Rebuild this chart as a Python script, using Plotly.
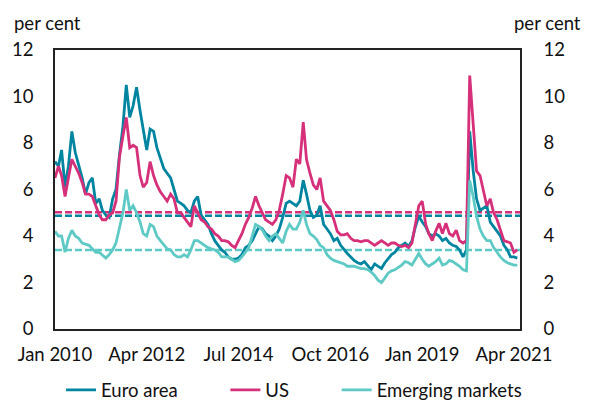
import pandas as pd
import plotly.graph_objects as go

dates = pd.date_range("2010-01-01", periods=137, freq="MS")

euro_area = [7.2, 7.0, 7.7, 6.1, 7.0, 8.5, 7.6, 7.1, 6.5, 5.8, 6.3, 6.5, 5.4, 5.6, 5.1, 4.9, 4.8, 5.6, 6.0, 7.5,
             8.7, 10.5, 9.1, 9.6, 10.4, 9.4, 8.6, 7.7, 8.6, 8.5, 7.8, 7.3, 6.9, 6.7, 6.5, 6.0, 5.5, 5.4, 5.3, 5.1,
             5.0, 5.5, 5.7, 4.9, 4.7, 4.5, 4.1, 3.8, 3.6, 3.4, 3.3, 3.1, 3.0, 3.0, 3.05, 3.2, 3.5, 3.6, 3.8, 4.1,
             4.4, 4.3, 4.1, 4.0, 3.8, 4.0, 4.3, 4.8, 5.4, 5.5, 5.4, 5.3, 5.5, 6.4, 5.8, 5.1, 4.8, 4.9, 5.3, 4.5,
             4.3, 4.1, 3.8, 3.9, 3.6, 3.4, 3.25, 3.1, 2.95, 2.85, 2.8, 2.9, 2.7, 2.55, 2.8, 2.7, 2.6, 2.85, 3.0, 3.2,
             3.3, 3.5, 3.6, 3.7, 3.55, 3.8, 4.4, 4.85, 4.6, 4.4, 4.1, 4.0, 4.1, 4.0, 3.8, 3.9, 3.7, 3.6, 3.55, 3.4,
             3.1, 3.4, 8.5, 6.8, 5.6, 5.1, 5.2, 5.3, 4.6, 4.4, 4.2, 4.0, 3.6, 3.4, 3.1, 3.1, 3.05]

us = [6.5, 7.0, 6.6, 5.7, 6.5, 7.3, 7.0, 6.7, 6.3, 5.8, 5.8, 5.7, 5.3, 4.9, 4.7, 4.7, 4.9, 5.0, 5.5, 7.4,
      8.3, 9.1, 7.8, 7.9, 7.8, 6.6, 6.1, 6.3, 7.2, 6.6, 6.2, 5.9, 5.7, 5.5, 5.8, 5.6, 5.0, 5.0, 4.8, 4.6,
      4.4, 5.3, 5.0, 4.7, 4.6, 4.4, 4.3, 4.1, 4.0, 3.8, 3.8, 3.75, 3.6, 3.5, 3.8, 4.1, 4.5, 4.8, 5.2, 5.7,
      5.3, 5.0, 4.7, 4.6, 4.5, 4.7, 5.1, 5.8, 6.6, 6.5, 6.1, 7.3, 7.1, 8.9, 7.3, 6.7, 6.2, 6.0, 6.5, 5.5,
      5.3, 5.1, 4.7, 4.2, 4.05, 4.05, 4.1, 3.9, 3.8, 3.8, 3.75, 3.8, 3.8, 3.7, 3.6, 3.7, 3.8, 3.7, 3.6, 3.7,
      3.7, 3.6, 3.55, 3.6, 3.5, 3.7, 4.6, 5.3, 5.5, 4.5, 4.1, 3.8, 4.2, 4.55, 4.1, 4.55, 4.1, 4.0, 4.25, 3.8,
      3.7, 3.8, 10.9, 9.0, 6.8, 6.6, 6.0, 5.3, 5.6, 5.0, 4.7, 4.3, 3.8, 3.75, 3.7, 3.3, 3.4]

emerging_markets = [4.2, 4.0, 4.0, 3.3, 3.9, 4.25, 4.0, 3.9, 3.7, 3.65, 3.6, 3.45, 3.3, 3.3, 3.2, 3.05, 3.2, 3.4, 3.7, 4.3,
                    5.0, 6.0, 5.1, 5.3, 5.0, 4.6, 4.1, 4.0, 4.5, 4.4, 4.0, 3.8, 3.6, 3.45, 3.4, 3.2, 3.1, 3.1, 3.2, 3.1,
                    3.4, 3.8, 3.8, 3.7, 3.6, 3.5, 3.45, 3.4, 3.3, 3.1, 3.1, 3.1, 3.0, 2.9, 2.95, 3.1, 3.3, 3.5, 4.0, 4.5,
                    4.4, 4.25, 4.0, 3.8, 4.0, 4.1, 3.9, 3.7, 4.2, 4.5, 4.3, 4.3, 4.6, 5.1, 4.5, 4.1, 4.0, 3.85, 3.6, 3.5,
                    3.2, 3.05, 2.95, 2.9, 2.85, 2.8, 2.7, 2.7, 2.7, 2.65, 2.6, 2.6, 2.55, 2.45, 2.3, 2.1, 2.0, 2.2, 2.4, 2.5,
                    2.55, 2.65, 2.75, 2.9, 2.85, 2.75, 3.0, 3.25, 3.0, 2.8, 2.7, 2.8, 2.9, 3.05, 2.75, 2.8, 2.95, 2.9, 2.8, 2.7,
                    2.55, 2.5, 6.4, 5.7, 4.85, 4.3, 4.0, 3.8, 3.8, 3.5, 3.3, 3.1, 2.95, 2.85, 2.8, 2.75, 2.75]

averages = {"Euro area": 4.87, "US": 5.02, "Emerging markets": 3.40}

names = ["Euro area", "US", "Emerging markets"]
colors = {"Euro area": "#0085A1", "US": "#D6307B", "Emerging markets": "#5FCAC5"}
series = {"Euro area": euro_area, "US": us, "Emerging markets": emerging_markets}

tick_dates = ["2010-01-01", "2012-04-01", "2014-07-01", "2016-10-01", "2019-01-01", "2021-04-01"]
tick_text = ["Jan 2010", "Apr 2012", "Jul 2014", "Oct 2016", "Jan 2019", "Apr 2021"]
y_ticks = [0, 2, 4, 6, 8, 10, 12]

PAD = "\u00a0" * 9
legend_pad = {"Euro area": PAD, "US": PAD, "Emerging markets": ""}

fig = go.Figure()
for n in names:
    fig.add_trace(go.Scatter(x=[dates[0], dates[-1] + pd.Timedelta(days=24)], y=[averages[n]] * 2,
                             mode="lines", line=dict(color=colors[n], width=2.5, dash="7px,3px"),
                             showlegend=False, hoverinfo="skip"))
for n in names:
    fig.add_trace(go.Scatter(x=dates, y=series[n], mode="lines", name=n + legend_pad[n],
                             line=dict(color=colors[n], width=2.8)))

# invisible trace for right axis
fig.add_trace(go.Scatter(x=[dates[0]], y=[0], yaxis="y2", mode="markers",
                         marker=dict(opacity=0), showlegend=False, hoverinfo="skip"))

font = dict(family="Lato, Carlito, sans-serif", size=18.5, color="#111111")
fig.update_layout(
    width=582, height=393,
    margin=dict(l=47, r=70, t=42, b=72, autoexpand=False),
    paper_bgcolor="white", plot_bgcolor="white",
    font=font,
    showlegend=True,
    legend=dict(orientation="h", x=0.013, xanchor="left", y=-0.22, yanchor="middle",
                font=font, itemwidth=30, tracegroupgap=0),
    xaxis=dict(type="date", range=["2010-01-01", "2021-05-25"], tickvals=tick_dates, ticktext=tick_text,
               showline=True, linecolor="#222222", linewidth=1.5, mirror=True, showgrid=False,
               ticks="", ticklabelstandoff=8, zeroline=False),
    yaxis=dict(range=[0, 12], tickvals=y_ticks, showline=True, linecolor="#222222", linewidth=1.5,
               mirror=True, showgrid=False, ticks="", ticklabelstandoff=16, zeroline=False),
    yaxis2=dict(range=[0, 12], tickvals=y_ticks, overlaying="y", side="right", anchor="x", showgrid=False,
                ticks="", ticklabelstandoff=18, tickprefix="\u00a0\u00a0", zeroline=False, showline=True,
                linecolor="#222222", linewidth=1.5),
    annotations=[
        dict(text="per cent", xref="paper", yref="paper", x=-0.0925, y=1.05, xanchor="left",
             yanchor="bottom", showarrow=False, font=font),
        dict(text="per cent", xref="paper", yref="paper", x=1.136, y=1.05, xanchor="right",
             yanchor="bottom", showarrow=False, font=font),
    ],
)

fig.write_html("out.html")
